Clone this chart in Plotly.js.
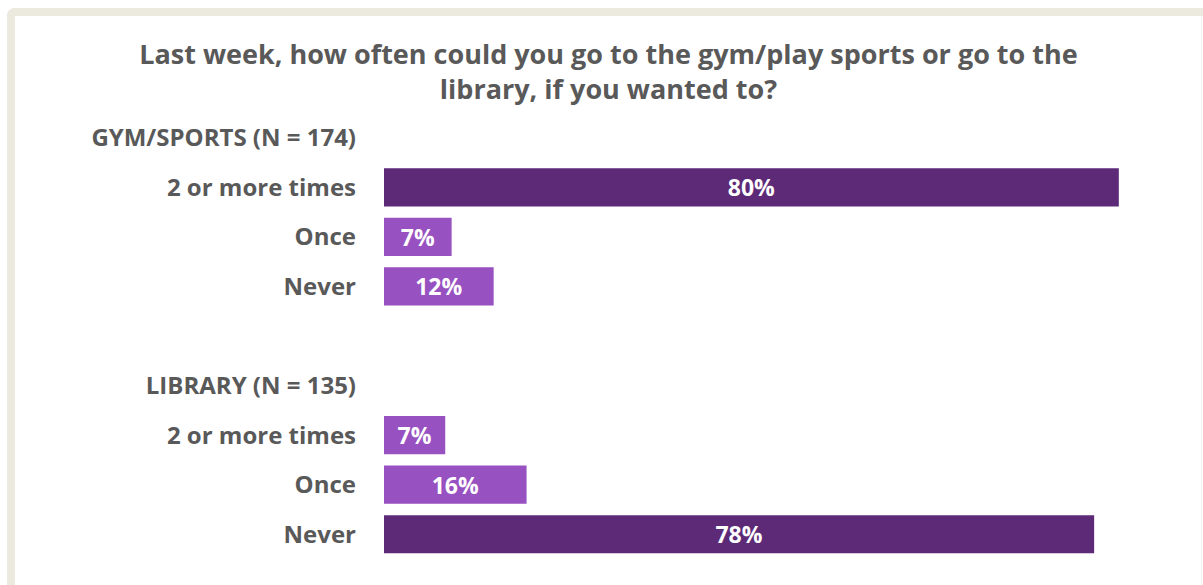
<!DOCTYPE html>
<html>
<head>
<meta charset="utf-8">
<script src="https://cdn.plot.ly/plotly-3.0.1.min.js"></script>
<style>
  html, body { margin: 0; padding: 0; background: #ffffff; }
  #wrap { position: relative; width: 1203px; height: 585px; overflow: hidden; background: #ffffff; }
  #frame { position: absolute; left: 7px; top: 8px; width: 1210px; height: 600px;
           border-left: 8px solid #ECE9DF; border-top: 8px solid #ECE9DF;
           border-top-left-radius: 8px; box-sizing: border-box; }
  #rline { position: absolute; left: 1201px; top: 16px; width: 1px; height: 580px; background: #F2F2F2; }
  #chart { position: absolute; left: 0; top: 0; width: 1203px; height: 585px; }
</style>
</head>
<body>
<div id="wrap">
  <div id="frame"></div>
  <div id="rline"></div>
  <div id="chart"></div>
</div>
<script>
// ---- data ----
const chartTitle = "Last week, how often could you go to the gym/play sports or go to the<br>library, if you wanted to?";
const rowLabels = ["GYM/SPORTS (N = 174)", "2 or more times", "Once", "Never", "", "LIBRARY (N = 135)", "2 or more times", "Once", "Never"];
const gymRows = [1, 2, 3];
const gymValues = [80.4, 7.4, 12.0];
const libraryRows = [6, 7, 8];
const libraryValues = [6.7, 15.6, 77.7];

// ---- style ----
const DARK = "#5C2A77";
const LIGHT = "#9751C1";
const FONT = "'Open Sans', sans-serif";
const GREY = "#595959";

function colorsFor(vals) { return vals.map(v => v > 50 ? DARK : LIGHT); }

function barTrace(rows, vals, name) {
  return {
    type: "bar",
    orientation: "h",
    name: name,
    y: rows,
    x: vals,
    width: 0.77,
    marker: { color: colorsFor(vals) },
    texttemplate: "%{x:.0f}%",
    textposition: "inside",
    insidetextanchor: "middle",
    constraintext: "none",
    textfont: { family: FONT, size: 23, color: "#ffffff", weight: 700 },
    hoverinfo: "skip"
  };
}

const data = [barTrace(gymRows, gymValues, "Gym/Sports"), barTrace(libraryRows, libraryValues, "Library")];

const tickvals = rowLabels.map((_, i) => i);

const layout = {
  width: 1203,
  height: 585,
  paper_bgcolor: "rgba(0,0,0,0)",
  plot_bgcolor: "rgba(0,0,0,0)",
  showlegend: false,
  margin: { l: 384, r: 33, t: 113, b: 26 },
  title: {
    text: chartTitle,
    font: { family: FONT, size: 27, color: GREY, weight: 700 },
    x: 0.5058, xanchor: "center",
    y: 0.8906, yanchor: "middle", yref: "container"
  },
  xaxis: {
    range: [0, 86],
    showgrid: false, zeroline: false, showticklabels: false, showline: false, ticks: ""
  },
  yaxis: {
    range: [8.5, -0.5],
    tickmode: "array",
    tickvals: tickvals,
    ticktext: rowLabels,
    showgrid: false, zeroline: false, showline: false, ticks: "",
    ticklabelstandoff: 27,
    tickfont: { family: FONT, size: 24, color: GREY, weight: 700 }
  },
  font: { family: FONT }
};

Plotly.newPlot("chart", data, layout, { staticPlot: true, displayModeBar: false });
</script>
</body>
</html>
